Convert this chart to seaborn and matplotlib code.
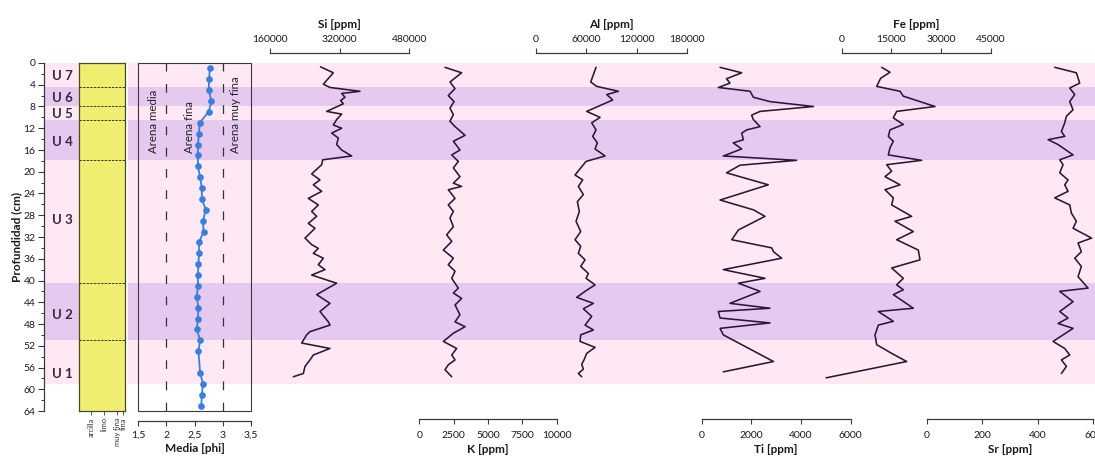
import matplotlib
matplotlib.use("Agg")
import matplotlib.pyplot as plt
from matplotlib.patches import Rectangle
import numpy as np
import pandas as pd
import seaborn as sns

sns.set_style("ticks")
plt.rcParams["font.family"] = ["Lato", "DejaVu Sans"]

# ---------------- data ----------------
units = ["U 7", "U 6", "U 5", "U 4", "U 3", "U 2", "U 1"]
unit_label_depth = [2.3, 6.4, 9.4, 14.5, 28.9, 46.3, 57.2]
unit_bounds = [4.4, 8.0, 10.4, 17.9, 40.5, 50.9]
purple_bands = [(4.4, 8.0), (10.4, 17.9), (40.5, 50.9)]
record_bottom = 59.0

grain_depth = [1, 3, 5, 7, 9, 11, 13, 15, 17, 19, 21, 23, 25, 27, 29, 31, 33, 35,
               37, 39, 41, 43, 45, 47, 49, 51, 53, 57, 59, 61, 63]
grain_phi = [2.77, 2.76, 2.75, 2.80, 2.75, 2.59, 2.58, 2.56, 2.56, 2.56, 2.60, 2.63,
             2.63, 2.70, 2.65, 2.66, 2.58, 2.58, 2.57, 2.56, 2.56, 2.54, 2.57, 2.56,
             2.54, 2.60, 2.57, 2.60, 2.65, 2.63, 2.62]
grain_classes = ["Arena media", "Arena fina", "Arena muy fina"]
grain_class_x = [1.77, 2.42, 3.22]
phi_ticks = [1.5, 2, 2.5, 3, 3.5]
phi_ticklabels = ["1,5", "2", "2,5", "3", "3,5"]
lith_classes = ["arcilla", "limo", "muy fina", "fina"]

si_depth = [0.7, 1.8, 3.9, 4.5, 5.2, 5.6, 6.3, 6.9, 7.5, 8.9, 9.4, 10.4, 11.4, 12.0,
            12.9, 13.8, 15.0, 16.0, 17.1, 17.8, 18.7, 20.4, 21.5, 22.4, 23.6, 24.9,
            26.1, 27.3, 28.2, 29.5, 30.4, 32.2, 33.4, 34.1, 35.0, 35.9, 37.1, 38.0,
            39.0, 40.5, 42.6, 44.2, 45.7, 47.6, 48.2, 49.4, 50.0, 51.5, 52.5, 53.7,
            54.6, 55.8, 57.1, 57.7]
si_ppm = [276000, 305500, 282500, 297800, 366700, 324600, 332300, 322300, 328400,
          290200, 324600, 313100, 305500, 324600, 301700, 317000, 313100, 324600,
          347600, 281000, 278700, 255700, 274800, 259500, 278700, 248000, 271000,
          255700, 267200, 248000, 263400, 240400, 255700, 271000, 259500, 282500,
          271000, 286300, 255700, 313100, 267200, 297800, 274800, 294000, 297800,
          251900, 244200, 232700, 297800, 259500, 251900, 240400, 236600, 213600]

k_depth = [0.8, 1.8, 3.5, 4.7, 6.0, 7.1, 8.3, 9.5, 10.7, 11.7, 13.3, 14.4, 16.0, 16.9,
           18.1, 19.3, 20.9, 22.1, 22.7, 23.3, 24.9, 26.1, 27.3, 28.5, 30.1, 31.6,
           32.8, 34.4, 35.9, 37.1, 38.3, 39.6, 41.4, 42.3, 43.3, 44.5, 46.3, 47.6,
           48.5, 49.7, 51.2, 52.5, 53.7, 54.6, 55.5, 56.4, 57.7]
k_ppm = [1870, 3080, 2230, 2600, 2110, 2530, 2230, 2480, 2230, 2600, 3330, 2480, 2960,
         2360, 2840, 2480, 2960, 2480, 3080, 2110, 2600, 2110, 2480, 2230, 2480, 1990,
         2360, 1750, 2480, 2110, 2600, 2360, 2840, 2480, 3080, 2600, 2960, 2600, 3330,
         2480, 1750, 2720, 2360, 2600, 2110, 1870, 2360]

al_depth = [0.8, 3.5, 4.3, 5.2, 5.8, 6.8, 8.9, 10.0, 11.0, 12.3, 13.5, 14.7, 15.8, 17.1,
            18.1, 20.6, 21.5, 22.7, 24.2, 25.5, 27.3, 29.1, 31.0, 32.5, 33.7, 35.0,
            36.2, 37.4, 38.7, 39.6, 40.8, 42.0, 43.1, 44.2, 45.2, 46.6, 48.2, 49.1,
            50.0, 51.2, 52.3, 53.4, 54.6, 55.4, 56.3, 57.1, 57.7]
al_ppm = [71790, 65440, 72580, 98370, 84490, 91630, 60680, 76550, 66630, 71790, 67820,
          73370, 70600, 82500, 59880, 46790, 55920, 50750, 56710, 49560, 51940, 47980,
          53540, 46790, 53540, 50750, 58690, 53540, 62660, 59880, 70600, 58690, 48770,
          68610, 56710, 66630, 58690, 68610, 53540, 52740, 70600, 60680, 57500, 54730,
          56710, 50750, 54730]

ti_depth = [0.8, 1.8, 2.9, 3.7, 4.5, 5.2, 6.3, 7.1, 8.0, 8.9, 9.6, 10.4, 11.7, 12.3,
            12.9, 14.1, 14.7, 15.8, 17.1, 17.9, 18.8, 20.2, 22.4, 25.2, 27.0, 28.2,
            30.7, 32.5, 34.0, 34.7, 35.9, 38.0, 39.6, 40.5, 42.0, 44.2, 45.1, 45.7,
            46.9, 47.8, 48.8, 50.0, 54.9, 56.8]
ti_ppm = [740, 1610, 1000, 1140, 670, 1950, 2080, 2750, 4500, 2350, 2010, 2080, 2350,
          1810, 1610, 1680, 1270, 1610, 870, 3820, 1540, 1000, 2680, 740, 2080, 2550,
          1480, 1210, 2820, 2890, 3220, 870, 2550, 1480, 2350, 1140, 2750, 670, 740,
          2750, 740, 870, 2890, 870]

fe_depth = [0.8, 1.7, 2.8, 4.3, 5.2, 6.1, 8.0, 8.9, 10.1, 11.3, 12.3, 13.5, 14.4, 15.6,
            16.9, 17.9, 18.7, 19.9, 20.9, 22.4, 23.3, 24.8, 26.1, 28.2, 29.1, 31.0,
            32.5, 34.4, 36.2, 37.7, 39.6, 40.8, 41.7, 42.6, 45.1, 45.7, 47.5, 48.2,
            50.0, 51.8, 53.4, 54.9, 57.9]
fe_ppm = [12070, 14590, 11770, 10560, 17610, 18610, 28180, 16600, 15590, 18610, 14590,
          14080, 15590, 14590, 14080, 24150, 13580, 15090, 13080, 17610, 13080, 15590,
          15090, 21130, 16100, 21630, 16600, 23140, 23650, 15090, 18610, 16600, 18610,
          15590, 21630, 11060, 15590, 11060, 10060, 10560, 15090, 19620, -4700]

sr_depth = [0.8, 1.8, 3.7, 4.6, 5.8, 7.1, 8.6, 9.8, 11.0, 12.6, 13.5, 14.1, 15.0, 16.9,
            17.8, 18.7, 20.2, 21.5, 22.4, 23.6, 24.8, 26.1, 27.6, 29.1, 30.4, 32.2,
            33.1, 34.7, 35.9, 37.4, 39.3, 41.4, 42.0, 43.9, 45.7, 46.9, 47.9, 48.8,
            51.2, 52.5, 53.7, 54.6, 55.8, 57.1]
sr_ppm = [462, 540, 552, 516, 534, 516, 528, 504, 498, 486, 498, 438, 474, 528, 480, 492,
          480, 510, 498, 510, 462, 516, 522, 540, 528, 595, 546, 558, 534, 558, 546, 582,
          480, 528, 480, 510, 474, 528, 456, 498, 516, 486, 504, 486]

elements = [
    # name, depths, values, axis ticks, scale side, left/right pixel of the scale
    ("Si [ppm]", si_depth, si_ppm, [160000, 320000, 480000], "top", 270.0, 409.3),
    ("K [ppm]", k_depth, k_ppm, [0, 2500, 5000, 7500, 10000], "bottom", 419.3, 556.7),
    ("Al [ppm]", al_depth, al_ppm, [0, 60000, 120000, 180000], "top", 535.7, 687.0),
    ("Ti [ppm]", ti_depth, ti_ppm, [0, 2000, 4000, 6000], "bottom", 701.7, 850.7),
    ("Fe [ppm]", fe_depth, fe_ppm, [0, 15000, 30000, 45000], "top", 841.7, 990.7),
    ("Sr [ppm]", sr_depth, sr_ppm, [0, 200, 400, 600], "bottom", 926.7, 1093.0),
]

# ---------------- styling ----------------
W, H = 1095, 461
PINK = "#fde8f3"
PURPLE = "#e6c9ef"
LINE = "#2a1836"
AXC = "#3a3a3a"
TXT = "#1a1a1a"
Y_TOP, Y_BOT = 63, 411
DEPTH_MAX = 64

fig = plt.figure(figsize=(W / 100, H / 100), dpi=100)


def px_rect(x0, x1, y0=Y_TOP, y1=Y_BOT):
    return [x0 / W, 1 - y1 / H, (x1 - x0) / W, (y1 - y0) / H]


def paint_bands(ax):
    ax.axhspan(0, record_bottom, color=PINK, lw=0, zorder=0)
    for a, b in purple_bands:
        ax.axhspan(a, b, color=PURPLE, lw=0, zorder=0.1)


# background bands across the geochemistry panel
ax_bg = fig.add_axes(px_rect(128, W))
ax_bg.set_ylim(DEPTH_MAX, 0)
ax_bg.set_xlim(0, 1)
paint_bands(ax_bg)
ax_bg.axis("off")
ax_bg.set_zorder(0)

# depth axis with unit labels
ax_d = fig.add_axes(px_rect(44, 79))
ax_d.set_ylim(DEPTH_MAX, 0)
ax_d.set_xlim(0, 1)
paint_bands(ax_d)
for s in ["top", "right", "bottom"]:
    ax_d.spines[s].set_visible(False)
ax_d.spines["left"].set_color(AXC)
ax_d.spines["left"].set_linewidth(0.9)
ax_d.set_xticks([])
ax_d.set_yticks(np.arange(0, 65, 4))
ax_d.set_yticks(np.arange(0, 65, 2), minor=True)
ax_d.tick_params(axis="y", which="major", length=4, width=0.8, color=AXC,
                 labelsize=7.5, pad=2, labelcolor=TXT)
ax_d.tick_params(axis="y", which="minor", length=2, width=0.7, color=AXC)
ax_d.set_ylabel("Profundidad (cm)", fontsize=8.5, fontweight="bold", labelpad=1,
                color=TXT)
for lab, dd in zip(units, unit_label_depth):
    ax_d.text(0.22, dd, lab, ha="left", va="center", fontsize=9.5,
              fontweight="bold", color="#35283c")

# lithology column
ax_l = fig.add_axes(px_rect(79, 125))
ax_l.set_ylim(DEPTH_MAX, 0)
ax_l.set_xlim(0, 1)
ax_l.set_facecolor("#efee70")
for s in ax_l.spines.values():
    s.set_color("#4a4a2a")
    s.set_linewidth(0.9)
for b in unit_bounds:
    ax_l.axhline(b, color="#3a3a2a", lw=0.7, ls=(0, (2.5, 1.2)))
ax_l.set_yticks([])
ax_l.set_xticks([0.26, 0.54, 0.83, 0.96])
ax_l.set_xticklabels(lith_classes, rotation=90, fontsize=5.4, color="#333333")
ax_l.tick_params(axis="x", length=3, width=0.6, color=AXC, pad=1.5)

# grain size panel
ax_g = fig.add_axes(px_rect(138, 251))
ax_g.set_facecolor("none")
ax_g.set_zorder(2)
ax_g.set_ylim(DEPTH_MAX, 0)
ax_g.set_xlim(1.5, 3.5)
ax_g.add_patch(Rectangle((0, 0), 1, 1, transform=ax_g.transAxes, fill=False,
                         ec=AXC, lw=0.8, clip_on=False, zorder=3))
for s in ["top", "left", "right"]:
    ax_g.spines[s].set_visible(False)
ax_g.spines["bottom"].set_position(("outward", 7))
ax_g.spines["bottom"].set_color(AXC)
ax_g.spines["bottom"].set_linewidth(0.9)
ax_g.set_yticks([])
ax_g.set_xticks(phi_ticks)
ax_g.set_xticklabels(phi_ticklabels)
ax_g.tick_params(axis="x", length=3.5, width=0.8, color=AXC, labelsize=7.5, pad=4,
                 labelcolor=TXT)
for xv in [2, 3]:
    ax_g.axvline(xv, color="#333333", lw=0.9, ls=(0, (7, 10)), zorder=1)
for lab, xv in zip(grain_classes, grain_class_x):
    ax_g.text(xv, 16.5, lab, rotation=90, ha="center", va="bottom", fontsize=8.3,
              color="#222222")
grain_df = pd.DataFrame({"phi": grain_phi, "depth": grain_depth})
sns.lineplot(data=grain_df, x="phi", y="depth", sort=False, estimator=None,
             orient="y", ax=ax_g, color="#3b7fd9", lw=1.3, marker="o",
             markersize=4.8, markeredgewidth=0, zorder=4)
for ln in ax_g.lines:
    ln.set_clip_on(False)
ax_g.set_ylim(DEPTH_MAX, 0)
ax_g.set_ylabel("")
ax_g.set_xlabel("Media [phi]", fontsize=8.5, fontweight="bold", labelpad=2, color=TXT)

# geochemical profiles
for name, dep, val, ticks, side, x0, x1 in elements:
    ax = fig.add_axes(px_rect(x0, x1))
    ax.set_facecolor("none")
    ax.set_zorder(3)
    df = pd.DataFrame({"v": val, "depth": dep})
    sns.lineplot(data=df, x="v", y="depth", sort=False, estimator=None, orient="y",
                 ax=ax, color=LINE, lw=1.15)
    for ln in ax.lines:
        ln.set_clip_on(False)
    ax.set_xlim(ticks[0], ticks[-1])
    ax.set_ylim(DEPTH_MAX, 0)
    ax.set_yticks([])
    ax.set_ylabel("")
    for s in ["left", "right", "top", "bottom"]:
        ax.spines[s].set_visible(False)
    ax.spines[side].set_visible(True)
    ax.spines[side].set_color(AXC)
    ax.spines[side].set_linewidth(0.9)
    ax.spines[side].set_position(("outward", 7 if side == "top" else 6))
    ax.set_xticks(ticks)
    ax.set_xticklabels([str(t) for t in ticks])
    if side == "top":
        ax.xaxis.tick_top()
        ax.xaxis.set_label_position("top")
        ax.tick_params(axis="x", pad=3)
        lp = 5
    else:
        ax.tick_params(axis="x", pad=5)
        lp = 3
    ax.tick_params(axis="x", length=3.5, width=0.8, color=AXC, labelsize=7.5,
                   labelcolor=TXT)
    ax.set_xlabel(name, fontsize=8.5, fontweight="bold", labelpad=lp, color=TXT)

fig.savefig("out.png", dpi=100)
